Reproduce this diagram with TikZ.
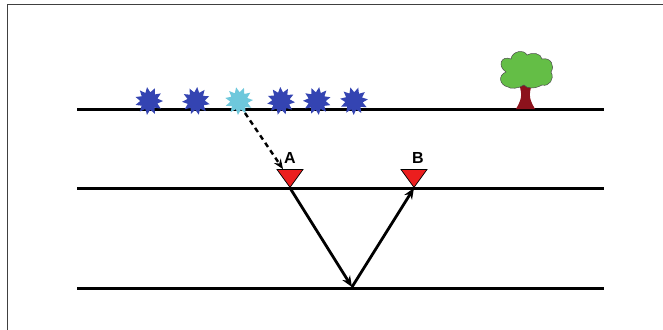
\documentclass[tikz,border=0pt]{standalone}
\usepackage{fontspec}
\setmainfont{Liberation Sans}
\usetikzlibrary{arrows.meta,shapes.geometric}
\definecolor{splatblue}{RGB}{52,68,178}
\definecolor{splatcyan}{RGB}{110,200,220}
\definecolor{leaf}{RGB}{100,190,70}
\definecolor{trunk}{RGB}{140,18,28}
\definecolor{redtri}{RGB}{235,30,30}
\tikzset{
  layer/.style={line width=3pt,black},
  splat/.style={star,star points=11,star point ratio=1.6,minimum size=28pt,inner sep=0pt,draw=none},
  receiver/.style={isosceles triangle,isosceles triangle apex angle=72,shape border rotate=-90,
    fill=redtri,draw=black,line width=0.7pt,minimum width=26pt,minimum height=16pt,inner sep=0pt},
  ray/.style={line width=2.8pt,-{Stealth[length=11pt,width=9pt]}},
  lbl/.style={font=\bfseries\fontsize{16}{18}\selectfont}
}
\begin{document}
\begin{tikzpicture}[x=1pt,y=-1pt]
\useasboundingbox (0,0) rectangle (663,329);
% frame
\draw[line width=1pt,black!75] (7.5,333) -- (7.5,4.5) -- (667,4.5);
% layer interfaces
\draw[layer] (77,109) coordinate (s1) -- (604,109) coordinate (e1);
\draw[layer] (77,188) coordinate (s2) -- (604,188) coordinate (e2);
\draw[layer] (77,288) coordinate (s3) -- (604,288) coordinate (e3);
% sources along the surface
\node[splat,fill=splatblue,rotate=8] (p1) at (149,101) {};
\node[splat,fill=splatblue,rotate=-5] (p2) at (196,101) {};
\node[splat,fill=splatcyan,rotate=12] (p3) at (239,101) {};
\node[splat,fill=splatblue,rotate=3] (p4) at (281,101) {};
\node[splat,fill=splatblue,rotate=-9] (p5) at (317,101) {};
\node[splat,fill=splatblue,rotate=15] (p6) at (354,101) {};
% tree
\fill[trunk] (516,109) .. controls (521,100) and (523,96) .. (519,84)
  -- (532,84) .. controls (528,96) and (530,100) .. (535,109) -- cycle;
\filldraw[fill=leaf,draw=black!70,line width=0.5pt]
  (508,87) .. controls (499,85) and (498,75) .. (506,72)
  .. controls (497,66) and (501,55) .. (511,59)
  .. controls (512,51) and (524,49) .. (527,55)
  .. controls (532,52) and (541,53) .. (542,59)
  .. controls (551,57) and (555,66) .. (551,72)
  .. controls (555,79) and (549,87) .. (542,85)
  .. controls (535,89) and (527,89) .. (524,85)
  .. controls (518,89) and (510,89) .. (508,87) -- cycle;
% receivers
\node[receiver,anchor=apex] (A) at (290,188) {};
\node[receiver,anchor=apex] (B) at (414,188) {};
\node[lbl] (la) at (290,158) {A};
\node[lbl] (lb) at (418,158) {B};
% rays
\coordinate (r) at (352,287);
\draw[line width=2.4pt,dash pattern=on 5pt off 4pt,-{Stealth[length=10pt,width=8pt]}] (p3.center) ++(6,12) -- (A.north west);
\draw[ray] (A.apex) -- (r);
\draw[ray] (r) -- (B.apex);
\end{tikzpicture}
\end{document}
